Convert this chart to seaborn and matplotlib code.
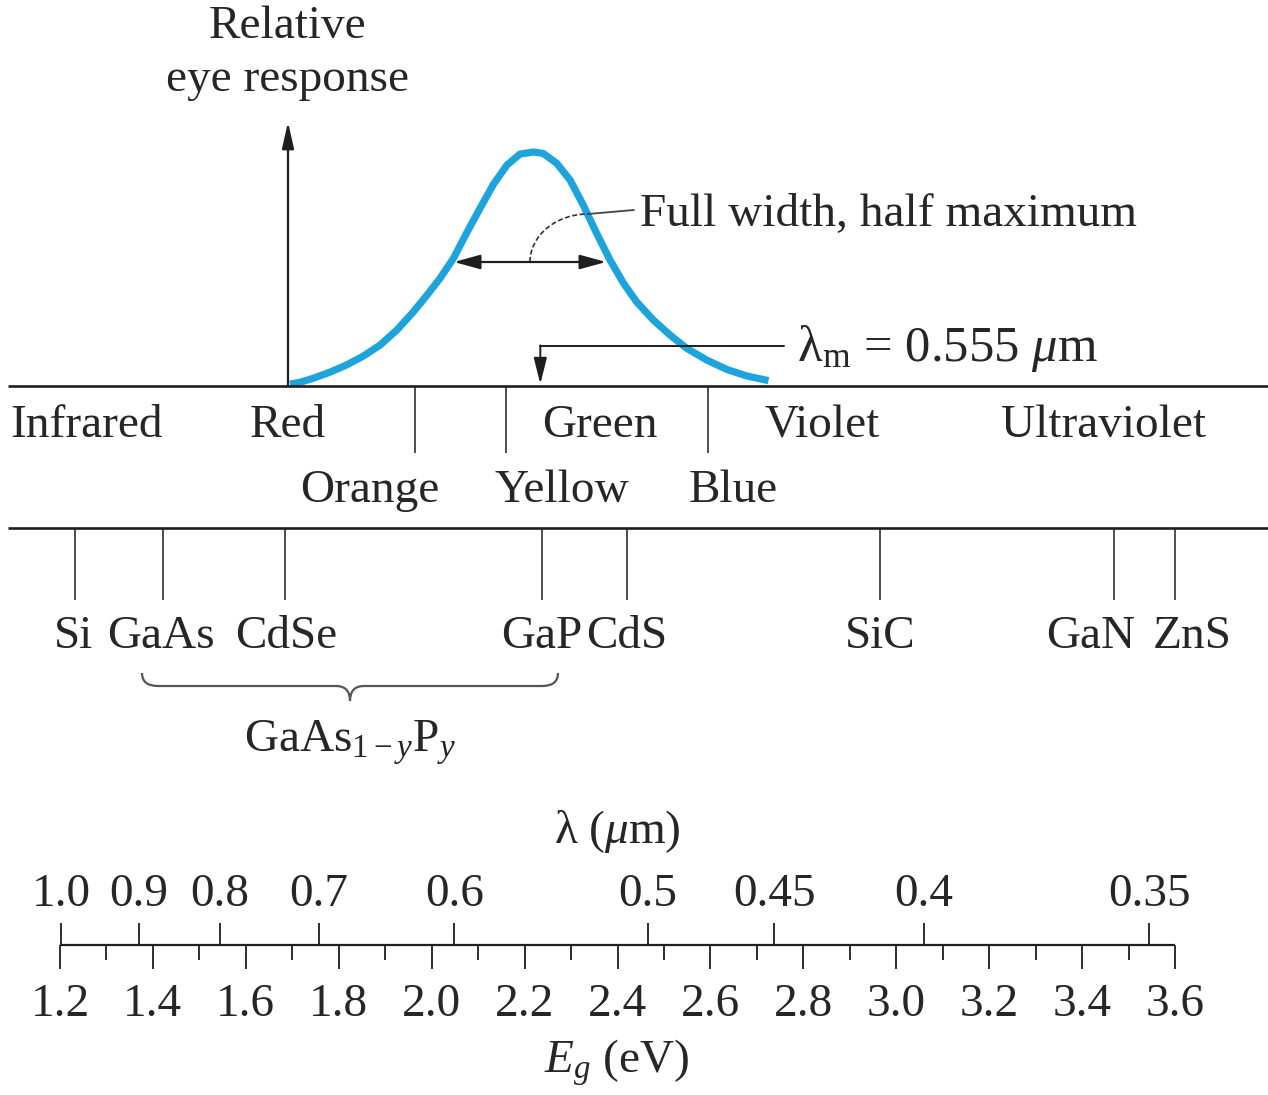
import matplotlib
matplotlib.use("Agg")
import matplotlib.pyplot as plt
import seaborn as sns
import pandas as pd
from matplotlib.path import Path
from matplotlib.patches import PathPatch, Arc

# ---------------- data ----------------
curve_energy_ev = [1.695, 1.717, 1.745, 1.781, 1.817, 1.853, 1.889, 1.925, 1.961,
                   1.989, 2.018, 2.047, 2.075, 2.104, 2.133, 2.162, 2.190, 2.219,
                   2.240, 2.269, 2.298, 2.326, 2.355, 2.384, 2.413, 2.441, 2.477,
                   2.513, 2.549, 2.592, 2.635, 2.678, 2.725]
curve_response = [0.008, 0.016, 0.033, 0.059, 0.090, 0.128, 0.175, 0.239, 0.318,
                  0.386, 0.460, 0.546, 0.653, 0.759, 0.862, 0.944, 0.991, 1.000,
                  0.994, 0.952, 0.880, 0.774, 0.653, 0.538, 0.439, 0.360, 0.282,
                  0.218, 0.161, 0.111, 0.071, 0.043, 0.023]

band_boundaries_ev = [1.964, 2.160, 2.595]
band_labels_row1 = ["Infrared", "Red", "Green", "Violet", "Ultraviolet"]
band_labels_row2 = ["Orange", "Yellow", "Blue"]

semiconductors = ["Si", "GaAs", "CdSe", "GaP", "CdS", "SiC", "GaN", "ZnS"]
semi_gap_ev = [1.232, 1.422, 1.684, 2.237, 2.420, 2.965, 3.469, 3.600]

eg_major_ticks = [1.2, 1.4, 1.6, 1.8, 2.0, 2.2, 2.4, 2.6, 2.8, 3.0, 3.2, 3.4, 3.6]
eg_minor_ticks = [1.3, 1.5, 1.7, 1.9, 2.1, 2.3, 2.5, 2.7, 2.9, 3.1, 3.3, 3.5]
eg_tick_labels = ["1.2", "1.4", "1.6", "1.8", "2.0", "2.2", "2.4", "2.6", "2.8",
                  "3.0", "3.2", "3.4", "3.6"]

lambda_tick_labels = ["1.0", "0.9", "0.8", "0.7", "0.6", "0.5", "0.45", "0.4", "0.35"]
lambda_tick_ev = [1.202, 1.369, 1.544, 1.758, 2.049, 2.465, 2.737, 3.060, 3.545]

lambda_m_um = 0.555
hc_ev_um = 1.2398

# ---------------- style ----------------
sns.set_theme(style="white")
plt.rcParams['font.family'] = ['Liberation Serif', 'DejaVu Serif']
plt.rcParams['mathtext.fontset'] = 'custom'
plt.rcParams['mathtext.rm'] = 'Liberation Serif'
plt.rcParams['mathtext.it'] = 'Liberation Serif:italic'
plt.rcParams['mathtext.bf'] = 'Liberation Serif:bold'

W, H = 1268, 1095
FS = 34
TC = '#262626'
LC = '#1e1e1e'
BLUE = '#1ea4dc'


def px2e(px):
    return 1.2 + (px - 60) * (3.6 - 1.2) / (1175 - 60)


xlim = (px2e(0), px2e(W))

fig = plt.figure(figsize=(W / 100, H / 100), dpi=100)
fig.patch.set_facecolor('white')

# eye response curve axes (baseline at y=386 px, peak at 152 px)
base_px, peak_px = 386, 152
axc = fig.add_axes([0, 1 - base_px / H, 1, base_px / H])
axc.set_xlim(*xlim)
axc.set_ylim(0, base_px / (base_px - peak_px))
axc.axis('off')
axc.patch.set_alpha(0)
df = pd.DataFrame({'E': curve_energy_ev, 'R': curve_response})
sns.lineplot(data=df, x='E', y='R', ax=axc, color=BLUE, lw=5.2, estimator=None,
             sort=False, solid_capstyle='butt', solid_joinstyle='round', legend=False)

# diagram axes: x in eV, y in pixels (top = 0)
ax = fig.add_axes([0, 0, 1, 1])
ax.set_xlim(*xlim)
ax.set_ylim(H, 0)
ax.axis('off')
ax.patch.set_alpha(0)


def txt(xpx, ypx, s, ha='center', va='baseline', **kw):
    ax.text(px2e(xpx), ypx, s, ha=ha, va=va, fontsize=kw.pop('fontsize', FS),
            color=TC, **kw)


# vertical axis arrow
ax.annotate('', xy=(px2e(288), 122), xytext=(px2e(288), base_px),
            arrowprops=dict(arrowstyle='-|>,head_length=0.8,head_width=0.18',
                            mutation_scale=20, lw=1.6, color=LC,
                            shrinkA=0, shrinkB=0))
txt(288, 38, "Relative")
txt(288, 91, "eye response")

# FWHM double arrow
ax.annotate('', xy=(px2e(454), 262), xytext=(px2e(606), 262),
            arrowprops=dict(arrowstyle='<|-|>,head_length=0.8,head_width=0.22',
                            mutation_scale=20, lw=1.6, color=LC,
                            shrinkA=0, shrinkB=0))
# leader arc
ax.add_patch(Arc((px2e(588), 262), width=px2e(588) - px2e(472), height=96,
                 theta1=180, theta2=270, lw=1.2, color='#333333',
                 linestyle=(0, (3, 1.5))))
ax.plot([px2e(588), px2e(634)], [214, 210], color='#444444', lw=1.3)
txt(640, 226, "Full width, half maximum", ha='left')

# lambda_m marker
xm = hc_ev_um / lambda_m_um
ax.plot([px2e(784), xm], [346, 346], color=LC, lw=1.4)
ax.annotate('', xy=(xm, 384), xytext=(xm, 345.3),
            arrowprops=dict(arrowstyle='-|>,head_length=0.8,head_width=0.2',
                            mutation_scale=20, lw=1.4, color=LC,
                            shrinkA=0, shrinkB=0))
txt(797, 361, r"λ$_\mathrm{m}$ = 0.555 $\mu$m", ha='left', fontsize=36.5)

# main horizontal lines
ax.hlines([base_px, 528], px2e(8), px2e(W), color=LC, lw=1.9)

# colour band boundaries and labels
ax.vlines(band_boundaries_ev, base_px, 453, color=LC, lw=1.1)
row1_x = [10, 288, 600, 822, 1104]
for name, xp in zip(band_labels_row1, row1_x):
    txt(xp, 437, name, ha='left' if name == "Infrared" else 'center')
row2_x = [370, 562, 733]
for name, xp in zip(band_labels_row2, row2_x):
    txt(xp, 502, name)

# semiconductor markers
ax.vlines(semi_gap_ev, 528, 600, color=LC, lw=1.1)
semi_label_x = [73, 161, 286, 542, 627, 880, 1091, 1192]
for name, xp in zip(semiconductors, semi_label_x):
    txt(xp, 648, name)


# brace for GaAs1-yPy
def P(x, y):
    return (px2e(x), y)


verts = [P(142, 673), P(142, 686), P(158, 686), P(336, 686), P(350, 686), P(350, 701),
         P(350, 686), P(364, 686), P(542, 686), P(558, 686), P(558, 673)]
codes = [Path.MOVETO, Path.CURVE3, Path.CURVE3, Path.LINETO, Path.CURVE3, Path.CURVE3,
         Path.CURVE3, Path.CURVE3, Path.LINETO, Path.CURVE3, Path.CURVE3]
ax.add_patch(PathPatch(Path(verts, codes), fill=False, edgecolor='#555555', lw=1.6))
txt(350, 752, r"GaAs$_{1-y}$P$_y$")

# wavelength / energy scale
ax.hlines(945, eg_major_ticks[0], eg_major_ticks[-1], color=LC, lw=1.6)
ax.vlines(eg_major_ticks, 945, 969, color=LC, lw=1.3)
ax.vlines(eg_minor_ticks, 945, 960, color=LC, lw=1.3)
ax.vlines(lambda_tick_ev, 923, 945, color=LC, lw=1.3)
for lab, e in zip(lambda_tick_labels, lambda_tick_ev):
    ax.text(e, 906, lab, ha='center', va='baseline', fontsize=FS, color=TC)
for lab, e in zip(eg_tick_labels, eg_major_ticks):
    ax.text(e, 1016, lab, ha='center', va='baseline', fontsize=FS, color=TC)
txt(617, 843, r"λ ($\mu$m)")
txt(617, 1073, r"$E_g$ (eV)")

fig.savefig("out.png", dpi=100, facecolor='white')
